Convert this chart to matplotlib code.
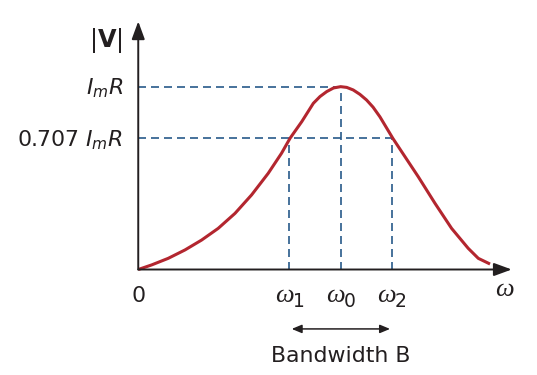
import matplotlib
matplotlib.use("Agg")
import matplotlib.pyplot as plt

plt.rcParams['font.family'] = ['DejaVu Sans']
plt.rcParams['mathtext.fontset'] = 'dejavusans'

# resonance curve (omega / omega0, |V| / ImR)
omega = [0.0, 0.066, 0.148, 0.231, 0.313, 0.395, 0.478, 0.560, 0.642,
         0.708, 0.750, 0.808, 0.865, 0.898, 0.931, 0.965, 1.0, 1.03,
         1.062, 1.095, 1.128, 1.16, 1.194, 1.258, 1.301, 1.383, 1.466,
         1.548, 1.630, 1.680, 1.738]
v_mag = [0.0, 0.025, 0.061, 0.107, 0.161, 0.225, 0.307, 0.408, 0.526,
         0.636, 0.718, 0.809, 0.909, 0.946, 0.973, 0.993, 1.0, 0.996,
         0.982, 0.958, 0.927, 0.888, 0.835, 0.717, 0.645, 0.508, 0.362,
         0.225, 0.116, 0.061, 0.030]

w1, w0, w2 = 0.747, 1.0, 1.252
half_power = 0.717
peak = 1.0

red = '#b3262f'
blue = '#285a8a'
ink = '#231f20'

fig = plt.figure(figsize=(5.37, 3.75), dpi=100)
ax = fig.add_axes([0, 0, 1, 1])
ax.set_xlim(-0.683, 1.970)
ax.set_ylim(-0.577, 1.474)
ax.axis('off')

# axes with arrows
head = '-|>,head_length=0.6,head_width=0.22'
ax.annotate('', xy=(1.845, 0), xytext=(0, 0),
            arrowprops=dict(arrowstyle=head, color=ink, lw=1.4,
                            mutation_scale=18, shrinkA=0, shrinkB=0))
ax.annotate('', xy=(0, 1.357), xytext=(0, 0),
            arrowprops=dict(arrowstyle=head, color=ink, lw=1.4,
                            mutation_scale=18, shrinkA=0, shrinkB=0))

# guide lines
dash = dict(color=blue, lw=1.2, dashes=(4.8, 3.0))
ax.plot([0, w0], [peak, peak], **dash)
ax.plot([0, w2], [half_power, half_power], **dash)
ax.plot([w1, w1], [0, half_power], **dash)
ax.plot([w0, w0], [0, peak], **dash)
ax.plot([w2, w2], [0, half_power], **dash)

ax.plot(omega, v_mag, color=red, lw=2.2, solid_capstyle='butt',
        solid_joinstyle='round')

# labels
fs = 15.8
ax.text(-0.16, 1.219, r'$|\mathbf{V}|$', fontsize=fs + 1.5, ha='center',
        va='baseline', color=ink)
ax.text(-0.076, 0.955, r'$I_mR$', fontsize=fs, ha='right', va='baseline',
        color=ink)
ax.text(-0.076, 0.672, r'0.707 $I_mR$', fontsize=fs, ha='right',
        va='baseline', color=ink)
ax.text(0, -0.176, '0', fontsize=fs, ha='center', va='baseline', color=ink)

for x, sub in zip([w1, w0, w2], ['1', '0', '2']):
    ax.text(x - 0.026, -0.176, 'ω', fontsize=19, ha='center',
            va='baseline', color=ink, family='Liberation Serif',
            style='italic')
    ax.text(x + 0.045, -0.207, sub, fontsize=13.5, ha='center',
            va='baseline', color=ink)
ax.text(1.811, -0.145, 'ω', fontsize=19, ha='center', va='baseline',
        color=ink, family='Liberation Serif', style='italic')

ax.annotate('', xy=(1.244, -0.325), xytext=(0.758, -0.325),
            arrowprops=dict(arrowstyle='<|-|>,head_length=0.6,head_width=0.25',
                            color=ink, lw=1.1, mutation_scale=10,
                            shrinkA=0, shrinkB=0))
ax.text(w0, -0.504, 'Bandwidth B', fontsize=fs, ha='center', va='baseline',
        color=ink)

fig.savefig('out.png', dpi=100)
